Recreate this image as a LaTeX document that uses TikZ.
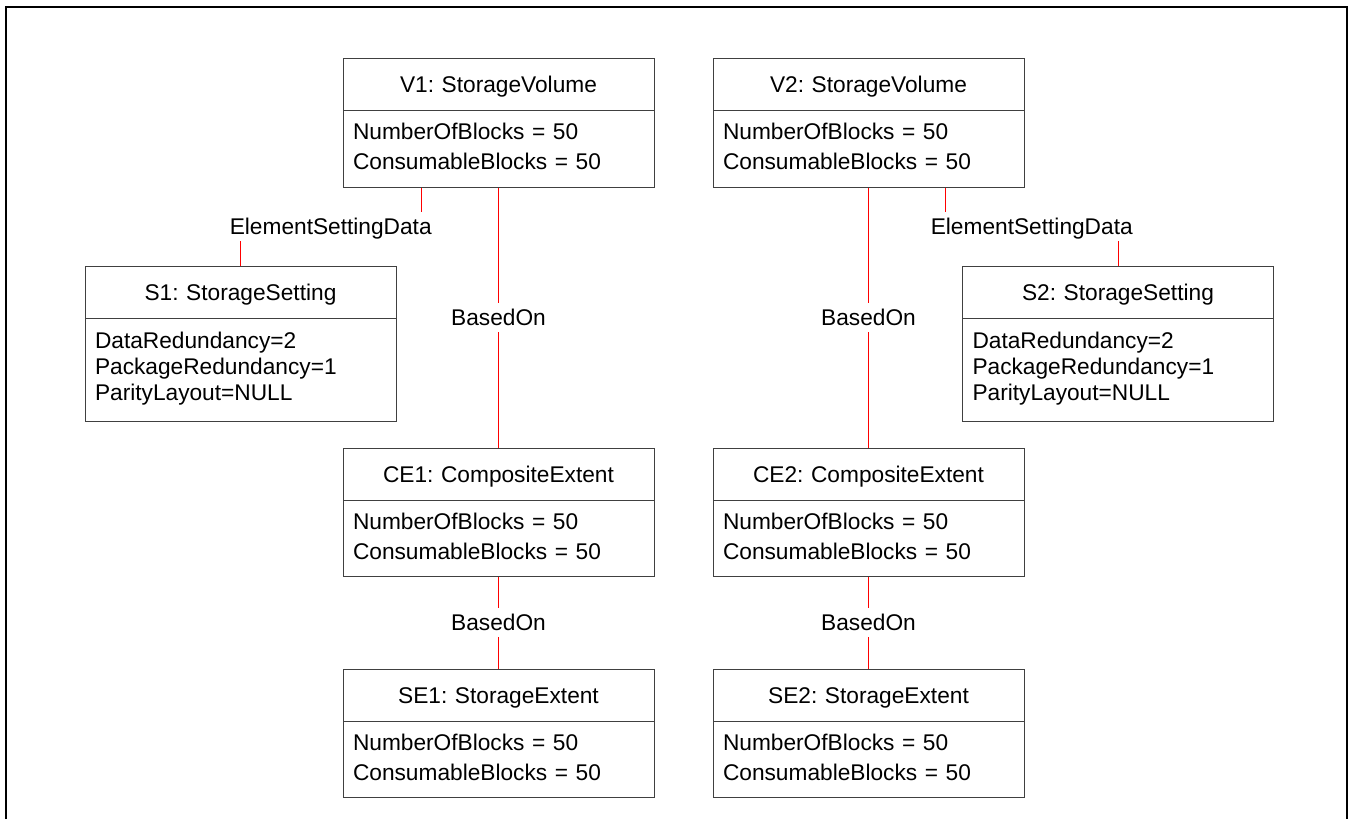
\documentclass[tikz,border=0pt]{standalone}
\usepackage{fontspec}
\setmainfont{Liberation Sans}
\usepackage{tikz}
\usetikzlibrary{shapes.multipart, positioning}
\setlength{\parindent}{0pt}
\frenchspacing
\newcommand{\ttl}[1]{\noindent\makebox[\hsize][c]{\rule[-17.3pt]{0pt}{51pt}#1}}
\newcommand{\vals}[1]{\noindent\rule{0pt}{28.5pt}#1\rule[-17pt]{0pt}{17pt}}
\newcommand{\props}[1]{\noindent\rule{0pt}{29pt}#1\rule[-21pt]{0pt}{21pt}}

\begin{document}
\begin{tikzpicture}[
  x=1pt, y=-1pt,
  node distance=260pt and 58pt,
  obj/.style={rectangle split, rectangle split parts=2, draw=black!75, line width=1pt, text width=291pt, inner xsep=10pt, inner ysep=0pt, anchor=north, font=\fontsize{22.7}{30}\selectfont},
  set/.style={obj, font=\fontsize{22.7}{26}\selectfont},
  lbl/.style={fill=white, text=black, inner sep=3pt, text height=19.6pt, text depth=3.4pt, font=\fontsize{22.7}{27}\selectfont},
  link/.style={red, line width=1pt},
  frame/.style={black, line width=2pt}
]
\useasboundingbox (0,0) rectangle (1351,819);
\draw[frame] (5.5,819) -- (5.5,6.5) -- (1346.5,6.5) -- (1346.5,819);

\node[obj] (V1) at (498.5,58) {\ttl{V1: StorageVolume}\nodepart{two}\vals{NumberOfBlocks = 50\\ConsumableBlocks = 50}};
\node[obj, right=58pt of V1] (V2) {\ttl{V2: StorageVolume}\nodepart{two}\vals{NumberOfBlocks = 50\\ConsumableBlocks = 50}};
\node[obj, below=of V1] (CE1) {\ttl{CE1: CompositeExtent}\nodepart{two}\vals{NumberOfBlocks = 50\\ConsumableBlocks = 50}};
\node[obj, below=of V2] (CE2) {\ttl{CE2: CompositeExtent}\nodepart{two}\vals{NumberOfBlocks = 50\\ConsumableBlocks = 50}};
\node[obj, below=91.5pt of CE1] (SE1) {\ttl{SE1: StorageExtent}\nodepart{two}\vals{NumberOfBlocks = 50\\ConsumableBlocks = 50}};
\node[obj, below=91.5pt of CE2] (SE2) {\ttl{SE2: StorageExtent}\nodepart{two}\vals{NumberOfBlocks = 50\\ConsumableBlocks = 50}};
\node[set] (S1) at (240.5,266) {\ttl{S1: StorageSetting}\nodepart{two}\props{DataRedundancy=2\\PackageRedundancy=1\\ParityLayout=NULL}};
\node[set] (S2) at (1118,266) {\ttl{S2: StorageSetting}\nodepart{two}\props{DataRedundancy=2\\PackageRedundancy=1\\ParityLayout=NULL}};

\draw[link] ([xshift=-77.5pt]V1.south) -- ++(0,39) -| node[lbl, pos=0.25] {ElementSettingData} (S1.north);
\draw[link] ([xshift=77pt]V2.south) -- ++(0,39) -| node[lbl, pos=0.25] {ElementSettingData} (S2.north);
\draw[link] (V1.south) -- node[lbl] {BasedOn} (CE1.north);
\draw[link] (V2.south) -- node[lbl] {BasedOn} (CE2.north);
\draw[link] (CE1.south) -- node[lbl] {BasedOn} (SE1.north);
\draw[link] (CE2.south) -- node[lbl] {BasedOn} (SE2.north);
\end{tikzpicture}
\end{document}
